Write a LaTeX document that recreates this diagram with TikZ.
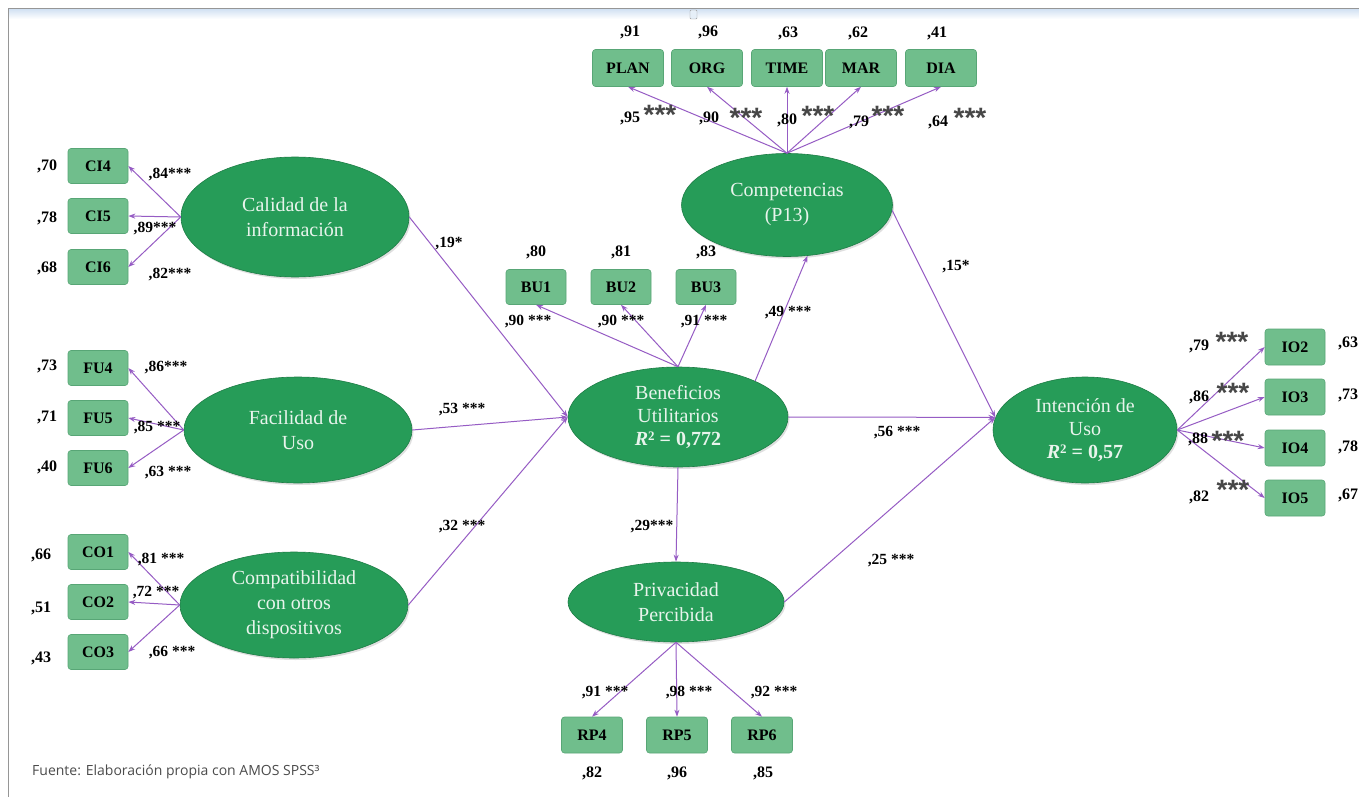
\documentclass[tikz,border=0pt]{standalone}
\usepackage{fontspec}
\setmainfont{Liberation Serif}
\newfontfamily\footfont{Open Sans}
\newfontfamily\starfont{Liberation Sans}
\usetikzlibrary{shapes.geometric,arrows.meta,shadows}
\definecolor{ellgreen}{RGB}{38,156,88}
\definecolor{boxgreen}{RGB}{112,190,140}
\definecolor{boxline}{RGB}{88,166,118}
\definecolor{arrowpurple}{RGB}{150,92,196}
\definecolor{elltext}{RGB}{232,244,236}
\definecolor{framegray}{RGB}{150,150,150}
\definecolor{bandblue}{RGB}{214,228,244}
\newcommand{\rsq}[1]{{\bfseries\itshape R}\raisebox{0.55ex}{\fontsize{13}{13}\selectfont\bfseries 2}\ {\bfseries =\ #1}}
\tikzset{
  latent/.style={ellipse, fill=ellgreen, draw=ellgreen!80!black, line width=0.6pt, text=elltext,
    align=center, font=\fontsize{20}{25}\selectfont, inner sep=0pt,
    drop shadow={opacity=0.25, shadow xshift=1.5pt, shadow yshift=-2pt}},
  obs/.style={rectangle, rounded corners=3pt, fill=boxgreen, draw=boxline, line width=0.6pt,
    minimum width=60pt, minimum height=35pt, inner sep=0pt, font=\bfseries\fontsize{16}{16}\selectfont},
  val/.style={font=\bfseries\fontsize{16}{16}\selectfont, inner sep=1pt},
  coef/.style={font=\bfseries\fontsize{15.5}{15.5}\selectfont, inner sep=1pt},
  bigstar/.style={font=\starfont\bfseries\fontsize{28}{28}\selectfont, text=black!72, inner sep=0pt},
  conn/.style={draw=arrowpurple, line width=1pt, -{Stealth[length=7pt,width=5pt]}}
}
\begin{document}
\begin{tikzpicture}[x=1pt,y=-1pt]
\useasboundingbox (0,0) rectangle (1359,797);
\fill[white] (0,0) rectangle (1359,797);
% frame
\shade[top color=bandblue, bottom color=white] (8,10) rectangle (1359,19);
\draw[framegray, line width=1pt] (8,797) -- (8,9) -- (1359,9);
\draw[black!40, fill=bandblue!60, rounded corners=1pt] (690,10) rectangle (697,19);

% latent variables
\node[latent, minimum width=228pt, minimum height=120pt] (cal) at (295,217) {Calidad de la\\información};
\node[latent, minimum width=228pt, minimum height=106pt] (fac) at (298,430) {Facilidad de\\Uso};
\node[latent, minimum width=228pt, minimum height=106pt] (cmp) at (294,605) {Compatibilidad\\con otros\\dispositivos};
\node[latent, minimum width=211pt, minimum height=103pt] (comp) at (787,205) {Competencias\\(P13)};
\node[latent, minimum width=220pt, minimum height=100pt, font=\fontsize{20}{23}\selectfont] (ben) at (678,417) {Beneficios\\Utilitarios\\\rsq{0,772}};
\node[latent, minimum width=216pt, minimum height=80pt] (priv) at (676,602) {Privacidad\\Percibida};
\node[latent, minimum width=184pt, minimum height=106pt, font=\fontsize{20}{23}\selectfont] (int) at (1085,430) {Intención de\\Uso\\\rsq{0,57}};

% observed: left
\node[obs] (ci4) at (98,166) {CI4};
\node[obs] (ci5) at (98,216) {CI5};
\node[obs] (ci6) at (98,267) {CI6};
\node[obs] (fu4) at (98,368) {FU4};
\node[obs] (fu5) at (98,418) {FU5};
\node[obs] (fu6) at (98,468) {FU6};
\node[obs] (co1) at (98,552) {CO1};
\node[obs] (co2) at (98,602) {CO2};
\node[obs] (co3) at (98,652) {CO3};
% top
\node[obs, minimum width=71pt, minimum height=37pt] (plan) at (628,68) {PLAN};
\node[obs, minimum width=71pt, minimum height=37pt] (org) at (707,68) {ORG};
\node[obs, minimum width=71pt, minimum height=37pt] (time) at (787,68) {TIME};
\node[obs, minimum width=71pt, minimum height=37pt] (mar) at (861,68) {MAR};
\node[obs, minimum width=71pt, minimum height=37pt] (dia) at (941,68) {DIA};
% BU
\node[obs] (bu1) at (536,287) {BU1};
\node[obs] (bu2) at (621,287) {BU2};
\node[obs] (bu3) at (706,287) {BU3};
% RP
\node[obs, minimum width=61pt, minimum height=36pt] (rp4) at (592,735) {RP4};
\node[obs, minimum width=61pt, minimum height=36pt] (rp5) at (677,735) {RP5};
\node[obs, minimum width=61pt, minimum height=36pt] (rp6) at (762,735) {RP6};
% IO
\node[obs, minimum height=36pt] (io2) at (1295,347) {IO2};
\node[obs, minimum height=36pt] (io3) at (1295,397) {IO3};
\node[obs, minimum height=36pt] (io4) at (1295,448) {IO4};
\node[obs, minimum height=36pt] (io5) at (1295,498) {IO5};

% measurement arrows
\foreach \b in {ci4,ci5,ci6} \draw[conn] (cal.west) -- (\b.east);
\foreach \b in {fu4,fu5,fu6} \draw[conn] (fac.west) -- (\b.east);
\foreach \b in {co1,co2,co3} \draw[conn] (cmp.west) -- (\b.east);
\foreach \b in {plan,org,time,mar,dia} \draw[conn] (comp.north) -- (\b.south);
\foreach \b in {bu1,bu2,bu3} \draw[conn] (ben.north) -- (\b.south);
\foreach \b in {rp4,rp5,rp6} \draw[conn] (priv.south) -- (\b.north);
\foreach \b in {io2,io3,io4,io5} \draw[conn] (int.east) -- (\b.west);

% structural arrows
\draw[conn] (cal.east) -- (ben.west);
\draw[conn] (fac.east) -- (ben.west);
\draw[conn] (cmp.east) -- (ben.west);
\draw[conn] (ben.25) -- (comp.-68);
\draw[conn] (comp.-3) -- (int.172);
\draw[conn] (ben.east) -- (int.172);
\draw[conn] (priv.east) -- (int.172);
\draw[conn] (ben.south) -- (priv.north);

% left values
\node[val] (v70) at (47,166) {,70};
\node[val] (v78) at (47,218) {,78};
\node[val] (v68) at (47,268) {,68};
\node[val] (v73) at (47,366) {,73};
\node[val] (v71) at (47,417) {,71};
\node[val] (v40) at (47,467) {,40};
\node[val] (v66) at (41,555) {,66};
\node[val] (v51) at (41,608) {,51};
\node[val] (v43) at (41,658) {,43};
% left coefficients
\node[coef] (c84) at (170,175) {,84***};
\node[coef] (c89) at (155,229) {,89***};
\node[coef] (c82) at (170,275) {,82***};
\node[coef] (c86) at (166,368) {,86***};
\node[coef] (c85) at (157,428) {,85 ***};
\node[coef] (c63) at (168,473) {,63 ***};
\node[coef] (c81) at (161,560) {,81 ***};
\node[coef] (c72) at (156,593) {,72 ***};
\node[coef] (c66) at (172,653) {,66 ***};
% structural coefficients
\node[coef] (s19) at (449,244) {,19*};
\node[coef] (s53) at (462,410) {,53 ***};
\node[coef] (s32) at (462,527) {,32 ***};
\node[coef] (s49) at (788,313) {,49 ***};
\node[coef] (s15) at (956,267) {,15*};
\node[coef] (s56) at (897,433) {,56 ***};
\node[coef] (s29) at (652,527) {,29***};
\node[coef] (s25) at (891,561) {,25 ***};
% BU
\node[val] (v80) at (536,252) {,80};
\node[val] (v81) at (621,252) {,81};
\node[val] (v83) at (706,252) {,83};
\node[coef] (b1) at (528,322) {,90 ***};
\node[coef] (b2) at (621,322) {,90 ***};
\node[coef] (b3) at (704,322) {,91 ***};
% RP
\node[coef] (r4) at (605,693) {,91 ***};
\node[coef] (r5) at (689,693) {,98 ***};
\node[coef] (r6) at (774,693) {,92 ***};
\node[val] (v82) at (592,773) {,82};
\node[val] (v96) at (677,773) {,96};
\node[val] (v85) at (763,773) {,85};
% top values
\node[val] (t91) at (630,32) {,91};
\node[val] (t96) at (708,32) {,96};
\node[val] (t63) at (788,33) {,63};
\node[val] (t62) at (858,33) {,62};
\node[val] (t41) at (937,33) {,41};
\node[val] (k95) at (630,118) {,95};
\node[bigstar] (k95s) at (660,115) {***};
\node[val] (k90) at (709,118) {,90};
\node[bigstar] (k90s) at (746,118) {***};
\node[val] (k80) at (787,120) {,80};
\node[bigstar] (k80s) at (818,116) {***};
\node[val] (k79) at (859,122) {,79};
\node[bigstar] (k79s) at (888,116) {***};
\node[val] (k64) at (938,122) {,64};
\node[bigstar] (k64s) at (970,118) {***};
% IO
\node[val] (i79) at (1199,346) {,79};
\node[bigstar] (i79s) at (1232,342) {***};
\node[val] (i86) at (1199,397) {,86};
\node[bigstar] (i86s) at (1233,393) {***};
\node[val] (i88) at (1198,439) {,88};
\node[bigstar] (i88s) at (1228,441) {***};
\node[val] (i82) at (1199,497) {,82};
\node[bigstar] (i82s) at (1233,490) {***};
\node[val] (o63) at (1348,343) {,63};
\node[val] (o73) at (1348,395) {,73};
\node[val] (o78) at (1348,447) {,78};
\node[val] (o67) at (1348,495) {,67};

% footer
\node[anchor=west, font=\footfont\fontsize{14}{14}\selectfont, text=black!70, inner sep=0pt] (foot) at (32,772) {Fuente: Elaboración propia con AMOS SPSS³};
\end{tikzpicture}
\end{document}
